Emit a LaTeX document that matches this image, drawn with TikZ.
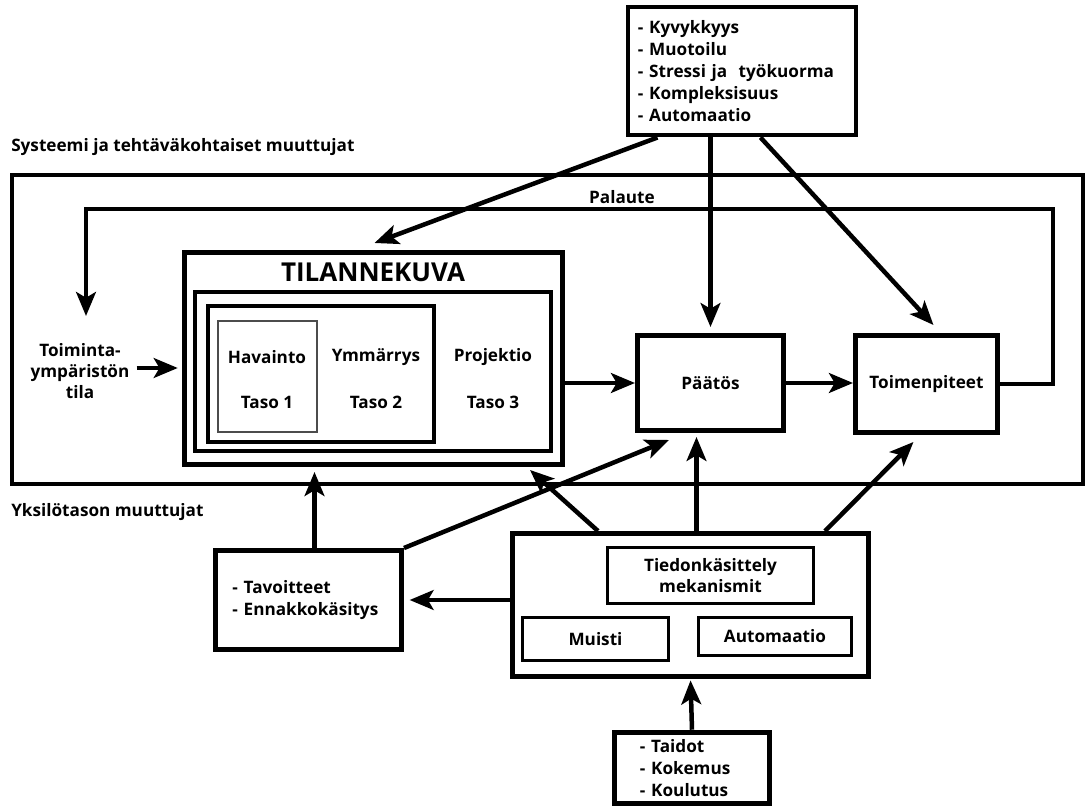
\documentclass[tikz,border=0pt]{standalone}
\usepackage{fontspec}
\setmainfont{Open Sans}
\usetikzlibrary{arrows.meta,calc,positioning}

\begin{document}
\begin{tikzpicture}[
  x=0.025cm, y=-0.025cm,
  every node/.style={font=\fontsize{12.2}{15.6}\selectfont\bfseries, inner sep=0pt},
  heavy/.style={draw, line width=3.5pt, align=center},
  light/.style={draw, line width=2.2pt, align=center},
  hair/.style={draw=black!70, line width=1pt},
  frame/.style={draw, line width=2.8pt},
  arr/.style={-{Stealth[length=17pt,width=14pt,inset=4pt]}, line width=3.2pt}
]
\useasboundingbox (0,0) rectangle (1088,808);

% system and task variables
\node[heavy, minimum width=5.7cm, minimum height=3.2cm, text width=5.2cm, align=left] (sys) at (742,71)
  {- Kyvykkyys\\- Muotoilu\\- Stressi ja\ \ työkuorma\\- Kompleksisuus\\- Automaatio};
\node[anchor=west] (syslbl) at (11,147) {Systeemi ja tehtäväkohtaiset muuttujat};
\node[frame, minimum width=26.775cm, minimum height=7.725cm] (kehys) at (547.5,329.5) {};

% situation awareness
\node[heavy, minimum width=9.45cm, minimum height=5.3cm] (tilanne) at (373.5,358.5) {};
\node[font=\fontsize{18.5}{22}\selectfont\bfseries] (tktitle) at (373,272) {TILANNEKUVA};
\node[heavy, line width=3pt, minimum width=8.9cm, minimum height=3.975cm] (sa3) at (373,371.5) {};
\node[heavy, line width=3pt, minimum width=5.65cm, minimum height=3.4cm] (sa2) at (321,374) {};
\node[hair, minimum width=2.475cm, minimum height=2.775cm] (sa1) at (267.5,376.5) {};
\foreach \x/\t [count=\i] in {267/Havainto, 376/Ymmärrys, 493/Projektio}{
  \node (lvl\i) at (\x,357) {\t};
  \node (taso\i) at (\x,402) {Taso \i};
}

\node[heavy, minimum width=3.65cm, minimum height=2.375cm] (paatos) at (710.5,383) {Päätös};
\node[heavy, minimum width=3.55cm, minimum height=2.425cm] (toimen) at (926.5,384) {Toimenpiteet};
\node[align=center, font=\fontsize{12.2}{14.9}\selectfont\bfseries] (ymp) at (80,371) {Toiminta-\\ympäristön\\tila};
\node (palaute) at (622,197) {Palaute};
\coordinate (pr) at (1053,209);
\coordinate (pl) at (86,209);
\coordinate (pe) at (86,316);

% individual variables
\node[anchor=west] (yksilbl) at (11,512) {Yksilötason muuttujat};
\node[heavy, minimum width=4.65cm, minimum height=2.475cm, text width=3.8cm, align=left] (tavoite) at (308.5,600)
  {- Tavoitteet\\- Ennakkokäsitys};
\node[heavy, minimum width=8.9cm, minimum height=3.575cm] (tiedon) at (690.5,605) {};
\node[light, minimum width=5.15cm, minimum height=1.4cm, font=\fontsize{12.2}{14.9}\selectfont\bfseries] (meka) at (710.5,575.5) {Tiedonkäsittely\\mekanismit};
\node[light, minimum width=3.65cm, minimum height=1.075cm] (muisti) at (595.5,639) {Muisti};
\node[light, minimum width=3.825cm, minimum height=0.95cm] (autom) at (775,636.5) {Automaatio};
\node[heavy, minimum width=3.875cm, minimum height=1.79cm, text width=2.6cm, align=left] (taidot) at (692,768)
  {- Taidot\\- Kokemus\\- Koulutus};

% connectors
\draw[arr] ($(sys.south west)+(32,0)$) -- ($(tilanne.north)+(1,-7)$);
\draw[arr] (sys.south -| paatos.north) -- ($(paatos.north)+(0,-6)$);
\draw[arr] ($(sys.south east)+(-98,0)$) -- ($(toimen.north)+(7,-8)$);
\draw[arr] (tilanne.east |- paatos.west) -- (paatos.west);
\draw[arr] (paatos.east) -- (toimen.west |- paatos.east);
\draw[arr] (toimen.east) -| (pr) -- (pl) -- (pe);
\draw[arr, shorten <=5pt, shorten >=3pt] (ymp.east |- 0,368) -- (tilanne.west |- 0,368);
\draw[arr] ($(tavoite.north)+(6,0)$) -- ($(tilanne.south -| tavoite.north)+(6,5)$);
\draw[arr] (tavoite.north east) -- ($(paatos.south west)+(34,7)$);
\draw[arr, shorten >=4pt] (tiedon.west |- tavoite.east) -- (tavoite.east);
\draw[arr] ($(tiedon.north west)+(88,0)$) -- ($(tilanne.south east)+(-35,3)$);
\draw[arr] ($(tiedon.north)+(6,0)$) -- ($(paatos.south)+(-14,4)$);
\draw[arr] ($(tiedon.north east)+(-46,0)$) -- ($(toimen.south)+(-13,7)$);
\draw[arr, shorten >=1pt] (taidot.north) -- (tiedon.south);
\end{tikzpicture}
\end{document}
